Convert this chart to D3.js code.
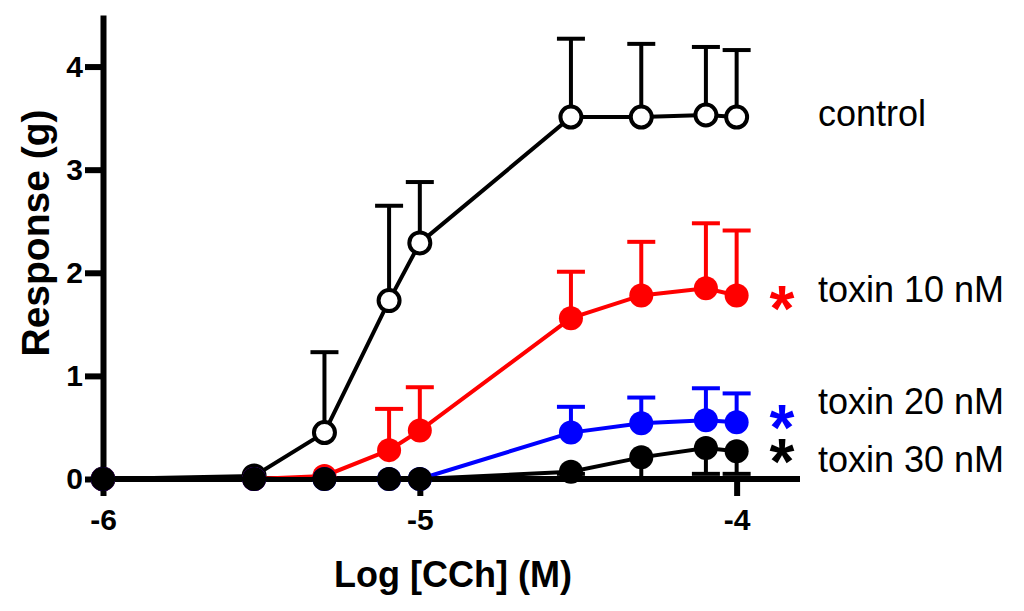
<!DOCTYPE html>
<html>
<head>
<meta charset="utf-8">
<script src="https://cdn.jsdelivr.net/npm/d3@7"></script>
<style>
  html, body { margin: 0; padding: 0; background: #ffffff; }
  svg { display: block; }
</style>
</head>
<body>
<svg id="chart" width="1024" height="611"></svg>
<script>
// ---- data ----
const logConc = [-6, -5.523, -5.301, -5.097, -5, -4.523, -4.301, -4.097, -4];
const xTicks = [-6, -5, -4];
const yTicks = [0, 1, 2, 3, 4];

const controlVals = [0, 0.03, 0.45, 1.73, 2.29, 3.51, 3.51, 3.53, 3.51];
const controlErr  = [0, 0, 0.78, 0.92, 0.59, 0.76, 0.71, 0.66, 0.65];

const tox10Vals = [0, 0, 0.03, 0.28, 0.47, 1.56, 1.78, 1.85, 1.78];
const tox10Err  = [0, 0, 0, 0.40, 0.42, 0.45, 0.52, 0.63, 0.63];

const tox20Vals = [0, 0, 0, 0, 0, 0.45, 0.54, 0.57, 0.55];
const tox20Err  = [0, 0, 0, 0, 0, 0.25, 0.25, 0.31, 0.28];

const tox30Vals = [0, 0, 0, 0, 0, 0.07, 0.21, 0.30, 0.27];
const tox30Err  = [0, 0, 0, 0, 0, 0.02, 0.21, 0.25, 0.22]; // drawn downward

const seriesNames = ["control", "toxin 10 nM", "toxin 20 nM", "toxin 30 nM"];
const seriesColors = ["#000000", "#ff0000", "#0000ff", "#000000"];

const series = [
  { name: seriesNames[0], vals: controlVals, err: controlErr, dir: -1, color: seriesColors[0], open: true },
  { name: seriesNames[1], vals: tox10Vals, err: tox10Err, dir: -1, color: seriesColors[1], open: false },
  { name: seriesNames[2], vals: tox20Vals, err: tox20Err, dir: -1, color: seriesColors[2], open: false },
  { name: seriesNames[3], vals: tox30Vals, err: tox30Err, dir: 1, color: seriesColors[3], open: false }
];

// ---- layout ----
const svg = d3.select("#chart");
const FONT = "'Liberation Sans', Arial, Helvetica, sans-serif";

const x = d3.scaleLinear().domain([-6, -3.8]).range([103, 800]);
const y = d3.scaleLinear().domain([0, 4.5]).range([479, 15]);

svg.append("rect").attr("width", 1024).attr("height", 611).attr("fill", "#fff");

// axes
const yAxis = d3.axisLeft(y).tickValues(yTicks).tickFormat(d3.format("d"))
  .tickSize(18).tickSizeOuter(0).tickPadding(2);
const gy = svg.append("g").attr("transform", `translate(${x(-6)},0)`).call(yAxis);

const xAxis = d3.axisBottom(x).tickValues(xTicks).tickFormat(d => String(d).replace("\u2212", "-"))
  .tickSize(17).tickSizeOuter(0).tickPadding(13);
const gx = svg.append("g").attr("transform", `translate(0,${y(0)})`).call(xAxis);

[gx, gy].forEach(g => {
  g.attr("font-size", 30).attr("font-family", FONT).attr("font-weight", "bold");
  g.select(".domain").attr("stroke", "#000").attr("stroke-width", 6);
  g.selectAll(".tick line").attr("stroke", "#000").attr("stroke-width", 6);
  g.selectAll(".tick text").attr("fill", "#000")
    .style("font-family", FONT).style("font-size", "30px").style("font-weight", "bold");
});
gx.select(".domain").attr("d", `M${x(-6) - 3},0H${x(-3.8)}`);

// axis titles
svg.append("text").attr("x", 453).attr("y", 587).attr("text-anchor", "middle")
  .style("font-family", FONT).style("font-size", "36px").style("font-weight", "bold")
  .text("Log [CCh] (M)");
svg.append("text").attr("transform", "translate(49,233) rotate(-90)").attr("text-anchor", "middle")
  .style("font-family", FONT).style("font-size", "39px").style("font-weight", "bold")
  .text("Response (g)");

// series
const line = d3.line().x(d => x(d[0])).y(d => y(d[1]));
series.forEach(s => {
  const pts = logConc.map((c, i) => [c, s.vals[i], s.err[i]]);
  const g = svg.append("g");
  const eb = pts.filter(p => p[2] > 0);
  g.selectAll("line.stem").data(eb).join("line")
    .attr("x1", d => x(d[0])).attr("x2", d => x(d[0]))
    .attr("y1", d => y(d[1])).attr("y2", d => y(d[1] - s.dir * d[2]))
    .attr("stroke", s.color).attr("stroke-width", 4);
  g.selectAll("line.cap").data(eb).join("line")
    .attr("x1", d => x(d[0]) - 14).attr("x2", d => x(d[0]) + 14)
    .attr("y1", d => y(d[1] - s.dir * d[2])).attr("y2", d => y(d[1] - s.dir * d[2]))
    .attr("stroke", s.color).attr("stroke-width", 4);
  g.append("path").datum(pts).attr("d", line)
    .attr("fill", "none").attr("stroke", s.color).attr("stroke-width", 4);
  g.selectAll("circle").data(pts).join("circle")
    .attr("cx", d => x(d[0])).attr("cy", d => y(d[1]))
    .attr("r", s.open ? 10.5 : 12)
    .attr("fill", s.open ? "#fff" : s.color)
    .attr("stroke", s.open ? s.color : "none")
    .attr("stroke-width", s.open ? 4 : 0);
});

// labels
const labelY = [126, 302, 414, 472];
seriesNames.forEach((n, i) => {
  svg.append("text").attr("x", 818).attr("y", labelY[i])
    .style("font-family", FONT).style("font-size", "36px").attr("fill", "#000").text(n);
});

// significance asterisks (one text element, one tspan per series)
const starY = [331, 450, 484];
const star = svg.append("text").attr("text-anchor", "middle")
  .style("font-family", FONT).style("font-size", "64px").style("font-weight", "bold");
[1, 2, 3].forEach((i, k) => {
  star.append("tspan").attr("x", 782).attr("y", starY[k]).attr("fill", seriesColors[i]).text("*");
});
</script>
</body>
</html>
